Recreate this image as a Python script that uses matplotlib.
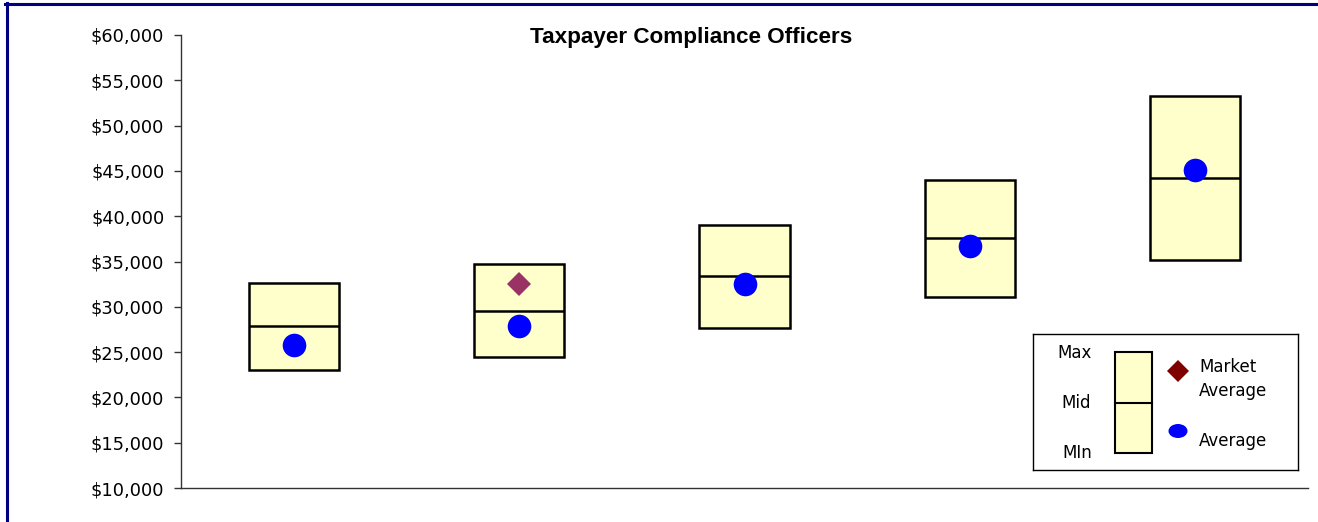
import matplotlib
matplotlib.use("Agg")
import matplotlib.pyplot as plt
import numpy as np
from matplotlib.lines import Line2D
from matplotlib.patches import Rectangle, Ellipse
from matplotlib import font_manager as fm

# ---- data ----
grades = [1, 2, 3, 4, 5]
range_min = [23000, 24450, 27650, 31100, 35150]
range_mid = [27900, 29550, 33400, 37600, 44250]
range_max = [32650, 34700, 39050, 44050, 53300]
average = [25750, 27900, 32550, 36700, 45100]
market_average = [np.nan, 32550, np.nan, np.nan, np.nan]
yticks = [10000, 15000, 20000, 25000, 30000, 35000, 40000, 45000, 50000, 55000, 60000]
title = "Taxpayer Compliance Officers"

W, H = 1318, 522
fig = plt.figure(figsize=(W / 100, H / 100), dpi=100)
fig.patch.set_facecolor("white")

def fx(px):
    return px / W

def fy(py):
    return 1 - py / H

# pick the regular-width Liberation Sans Bold (not Narrow)
title_fp = None
for f in fm.fontManager.ttflist:
    if f.name == "Liberation Sans" and f.weight in (700, "bold") and f.style == "normal" \
            and "narrow" not in f.fname.lower():
        title_fp = fm.FontProperties(fname=f.fname)
        break
if title_fp is None:
    title_fp = fm.FontProperties(family="DejaVu Sans", weight="bold")

ax = fig.add_axes([fx(181), fy(488), fx(1308) - fx(181), fy(35) - fy(488)])

x = np.array(grades, dtype=float)
lo = np.array(range_min)
hi = np.array(range_max)
bw = 0.40
ax.bar(x, hi - lo, bottom=lo, width=bw, color="#FFFFCC", edgecolor="black",
       linewidth=1.8, zorder=2)
ax.hlines(range_mid, x - bw / 2, x + bw / 2, colors="black", linewidth=1.8, zorder=3)
ax.plot(x, average, linestyle="none", marker="o", markersize=17,
        color="#0000FF", markeredgewidth=0, zorder=4)
ax.plot(x, market_average, linestyle="none", marker="D", markersize=12,
        color="#993366", markeredgewidth=0, zorder=4)

ax.set_xlim(0.5, 5.5)
ax.set_ylim(10000, 60000)
ax.set_yticks(yticks)
ax.set_yticklabels([f"${v:,.0f}" for v in yticks])
ax.set_xticks([])
for s in ["top", "right"]:
    ax.spines[s].set_visible(False)
for s in ["left", "bottom"]:
    ax.spines[s].set_color("#333333")
    ax.spines[s].set_linewidth(1.0)
ax.tick_params(axis="y", length=5, width=1.0, color="#333333", pad=7,
               labelsize=12.8, labelcolor="black")
for lab in ax.get_yticklabels():
    lab.set_family("DejaVu Sans")

title_fp.set_size(16.2)
fig.text(fx(691), fy(38), title, ha="center", va="center",
         fontproperties=title_fp)

# ---- custom legend ----
lx0, ly0, lw, lh = 1033, 334, 265, 136
lax = fig.add_axes([fx(lx0), fy(ly0 + lh), fx(lw), lh / H])
lax.set_xlim(0, lw)
lax.set_ylim(lh, 0)
lax.set_xticks([])
lax.set_yticks([])
for s in lax.spines.values():
    s.set_linewidth(1.0)
    s.set_color("black")
lax.add_patch(Rectangle((82, 18), 37, 101, facecolor="#FFFFCC",
                        edgecolor="black", linewidth=1.5))
lax.plot([82, 119], [69, 69], color="black", linewidth=1.5)
lax.plot([145], [37], marker="D", markersize=11, color="#800000",
         markeredgewidth=0, linestyle="none")
lax.add_patch(Ellipse((145, 97), 19, 14, facecolor="#0000FF", edgecolor="none"))
lfs = 12
for txt, (tx, ty) in [("Max", (42, 19)), ("Mid", (43, 69)), ("MIn", (44, 119))]:
    lax.text(tx, ty, txt, ha="center", va="center", fontsize=lfs, family="DejaVu Sans")
lax.text(166, 33, "Market", ha="left", va="center", fontsize=lfs, family="DejaVu Sans")
lax.text(166, 57, "Average", ha="left", va="center", fontsize=lfs, family="DejaVu Sans")
lax.text(166, 107, "Average", ha="left", va="center", fontsize=lfs, family="DejaVu Sans")

# ---- navy frame (top and left) ----
fig.add_artist(Line2D([fx(6.5), fx(6.5)], [0, fy(2.7)], color="#000080",
                      linewidth=2.2, transform=fig.transFigure))
fig.add_artist(Line2D([fx(5), 1], [fy(4.2), fy(4.2)], color="#000080",
                      linewidth=2.2, transform=fig.transFigure))

fig.savefig("out.png", dpi=100)
